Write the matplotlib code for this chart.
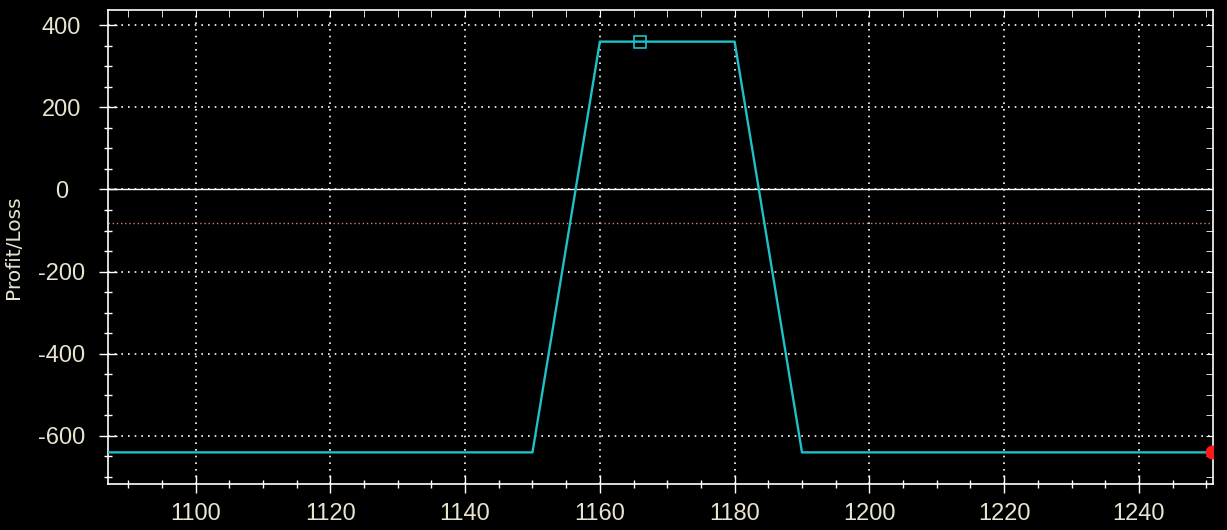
import numpy as np
import matplotlib.pyplot as plt
from matplotlib.ticker import MultipleLocator

plt.rcParams['font.family'] = ['Liberation Sans', 'DejaVu Sans']
plt.rcParams['axes.unicode_minus'] = False

# iron condor style payoff
prices = [1087, 1150, 1160, 1180, 1190, 1251]
pnl = [-640, -640, 360, 360, -640, -640]
current_price = [1166]
current_pnl = [360]
end_price = [1250.8]
end_pnl = [-640]
ref_level = -82

fg = '#e8e4d0'
teal = '#1fc0c8'

fig = plt.figure(figsize=(12.27, 5.30), dpi=100, facecolor='black')
ax = fig.add_axes([108/1227, 46/530, (1213-108)/1227, (484-10)/530])
ax.set_facecolor('black')

ax.plot(prices, pnl, color=teal, lw=1.7, zorder=3)
ax.plot(current_price, current_pnl, 's', ms=9, mfc='none', mec=teal, mew=1.2, zorder=4)
ax.plot(end_price, end_pnl, 'o', ms=9, color='#ff1a1a', zorder=5)

ax.axhline(0, color='white', lw=1.0, zorder=2)
ax.axhline(ref_level, color='#c08a6a', lw=1.0, ls=(0, (1, 2)), zorder=2)

ax.set_xlim(1087, 1251)
ax.set_ylim(-717, 437)
ax.xaxis.set_major_locator(MultipleLocator(20))
ax.xaxis.set_minor_locator(MultipleLocator(5))
ax.yaxis.set_major_locator(MultipleLocator(200))
ax.yaxis.set_minor_locator(MultipleLocator(50))

ax.grid(True, which='major', color='white', lw=1.2, ls=(0, (1, 3)))

for s in ax.spines.values():
    s.set_color('white')
    s.set_linewidth(1.2)

ax.tick_params(which='major', direction='inout', length=13, width=1.0, color='white',
               labelcolor=fg, labelsize=17, pad=7)
ax.tick_params(which='minor', direction='inout', length=6, width=1.0, color='white')
ax.tick_params(axis='y', which='major', pad=27)
for lab in ax.get_yticklabels():
    lab.set_horizontalalignment('center')

# short inward ticks on top and right
top = ax.secondary_xaxis('top')
top.xaxis.set_major_locator(MultipleLocator(20))
top.xaxis.set_minor_locator(MultipleLocator(5))
top.tick_params(which='both', direction='in', length=5, color='white', labeltop=False)
top.spines['top'].set_visible(False)
right = ax.secondary_yaxis('right')
right.yaxis.set_major_locator(MultipleLocator(200))
right.yaxis.set_minor_locator(MultipleLocator(50))
right.tick_params(which='both', direction='in', length=5, color='white', labelright=False)
right.spines['right'].set_visible(False)

fig.text(14/1227, 1 - 247/530, 'Profit/Loss', rotation=90, color=fg, fontsize=14.5,
         ha='center', va='center', family='DejaVu Sans')

fig.savefig('out.png', dpi=100, facecolor='black')
